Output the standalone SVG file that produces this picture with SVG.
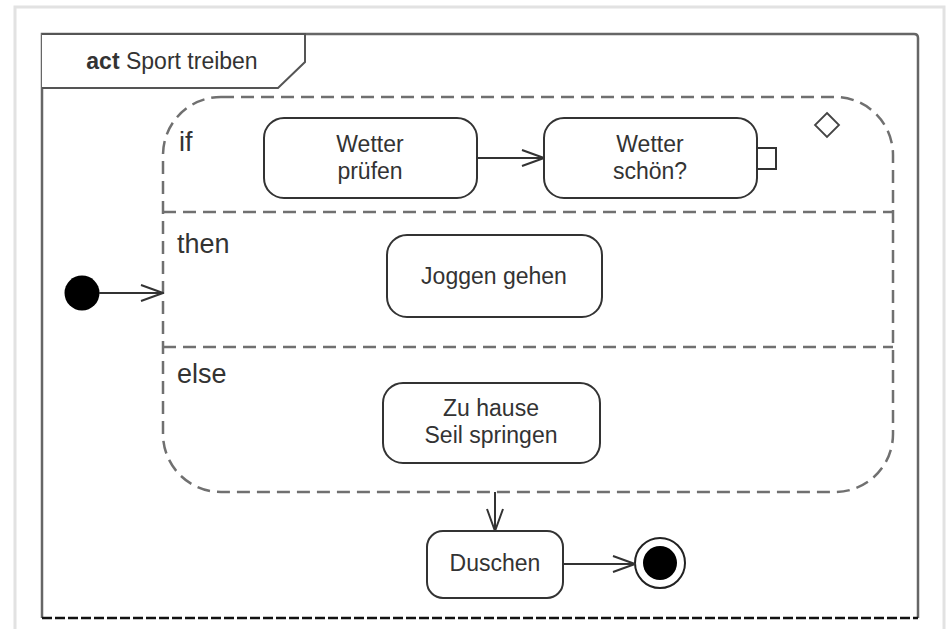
<svg xmlns="http://www.w3.org/2000/svg" width="949" height="629" viewBox="0 0 949 629">
  <defs>
    <marker id="open" viewBox="0 0 24 20" refX="23" refY="10" markerWidth="24" markerHeight="20" markerUnits="userSpaceOnUse" orient="auto">
      <path d="M1,2 L23,10 L1,18" fill="none" stroke="#333" stroke-width="2"/>
    </marker>
    <style>
      .node { fill: #fff; stroke: #333; stroke-width: 2; }
      .txt { font-family: "Liberation Sans", Arial, sans-serif; font-size: 23px; fill: #333; text-anchor: middle; }
      .lbl { font-family: "Liberation Sans", Arial, sans-serif; font-size: 27px; fill: #333; }
      .dash { fill: none; stroke: #707070; stroke-width: 2.5; stroke-dasharray: 13 7; }
      .edge { fill: none; stroke: #333; stroke-width: 2; marker-end: url(#open); }
    </style>
  </defs>

  <rect width="949" height="629" fill="#fff"/>
  <!-- page border -->
  <rect x="15" y="7" width="929" height="640" fill="none" stroke="#e2e2e2" stroke-width="3"/>

  <!-- activity frame -->
  <g id="frame">
    <path d="M42,618 L42,34 L914,34 Q918,34 918,38 L918,618" fill="none" stroke="#666" stroke-width="2.5"/>
    <line x1="42" y1="618" x2="918" y2="618" stroke="#111" stroke-width="2.5" stroke-dasharray="10 3"/>
    <path d="M42,34 L305,34 L305,62 L278,88 L42,88" fill="#fff" stroke="#555" stroke-width="2"/>
    <text x="172" y="69" class="txt"><tspan font-weight="bold">act</tspan> Sport treiben</text>
  </g>

  <!-- conditional region -->
  <g id="conditional">
    <rect x="163" y="97" width="730" height="395" rx="58" ry="58" class="dash"/>
    <line x1="163" y1="212" x2="893" y2="212" class="dash"/>
    <line x1="163" y1="347" x2="893" y2="347" class="dash"/>
    <text x="179" y="151" class="lbl">if</text>
    <text x="177" y="253" class="lbl">then</text>
    <text x="177" y="383" class="lbl">else</text>
    <path d="M827,113 L839,125 L827,137 L815,125 Z" fill="#fff" stroke="#444" stroke-width="1.8"/>
  </g>

  <g id="initial">
    <circle cx="82" cy="293" r="17.5" fill="#000"/>
  </g>

  <g id="wetter-pruefen">
    <rect x="264" y="118" width="213" height="80" rx="20" class="node"/>
    <text x="370" y="152" class="txt">Wetter</text>
    <text x="370" y="179" class="txt">prüfen</text>
  </g>

  <g id="wetter-schoen">
    <rect x="544" y="118" width="213" height="80" rx="20" class="node"/>
    <rect x="757" y="148" width="19" height="21" fill="#fff" stroke="#333" stroke-width="2"/>
    <text x="650" y="152" class="txt">Wetter</text>
    <text x="650" y="179" class="txt">schön?</text>
  </g>

  <g id="joggen">
    <rect x="387" y="235" width="215" height="82" rx="20" class="node"/>
    <text x="494" y="284" class="txt">Joggen gehen</text>
  </g>

  <g id="seil">
    <rect x="383" y="383" width="217" height="80" rx="20" class="node"/>
    <text x="491" y="416" class="txt">Zu hause</text>
    <text x="491" y="443" class="txt">Seil springen</text>
  </g>

  <g id="duschen">
    <rect x="427" y="531" width="136" height="67" rx="16" class="node"/>
    <text x="495" y="571" class="txt">Duschen</text>
  </g>

  <g id="final">
    <circle cx="660" cy="563" r="25" fill="#fff" stroke="#222" stroke-width="2"/>
    <circle cx="660" cy="563" r="17" fill="#000"/>
  </g>

  <!-- control flows -->
  <g id="connectors">
    <line x1="99" y1="293" x2="163" y2="293" class="edge"/>
    <line x1="477" y1="158" x2="544" y2="158" class="edge"/>
    <line x1="495" y1="492" x2="495" y2="531" class="edge"/>
    <line x1="563" y1="564" x2="635" y2="564" class="edge"/>
  </g>
</svg>
